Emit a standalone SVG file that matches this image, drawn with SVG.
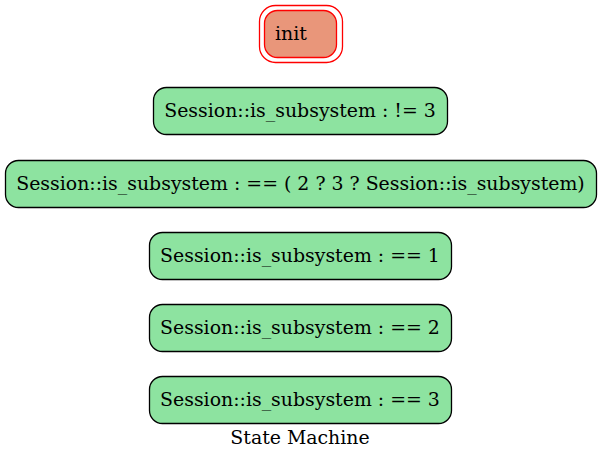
<svg xmlns="http://www.w3.org/2000/svg" width="601" height="460" viewBox="0 0 601 460">
<style>
text{font-family:"DejaVu Serif","Liberation Serif",serif;font-size:18.9px;text-anchor:middle;fill:#000}
.st{fill:#8de3a0;stroke:#000;stroke-width:1.3}
.init{fill:#e9967a;stroke:#ff0000;stroke-width:1.3}
.outer{fill:none;stroke:#ff0000;stroke-width:1.3}
</style>
<rect width="601" height="460" fill="#fff"/>
<g id="init">
<rect class="outer" x="259.5" y="5.5" width="83" height="57" rx="16"/>
<rect class="init" x="264.5" y="10.5" width="72" height="47" rx="13"/>
<text x="291" y="40">init</text>
</g>
<g id="s1">
<rect class="st" x="153.5" y="87.5" width="294" height="47" rx="13"/>
<text x="300" y="117">Session::is_subsystem : != 3</text>
</g>
<g id="s2">
<rect class="st" x="5.5" y="160.5" width="591" height="47" rx="13"/>
<text x="300.5" y="190">Session::is_subsystem : == ( 2 ? 3 ? Session::is_subsystem)</text>
</g>
<g id="s3">
<rect class="st" x="149.5" y="232.5" width="302" height="47" rx="13"/>
<text x="300" y="262">Session::is_subsystem : == 1</text>
</g>
<g id="s4">
<rect class="st" x="149.5" y="304.5" width="302" height="47" rx="13"/>
<text x="300" y="334">Session::is_subsystem : == 2</text>
</g>
<g id="s5">
<rect class="st" x="149.5" y="376.5" width="302" height="47" rx="13"/>
<text x="300" y="406">Session::is_subsystem : == 3</text>
</g>
<g id="connectors"></g>
<text x="300" y="444">State Machine</text>
</svg>
